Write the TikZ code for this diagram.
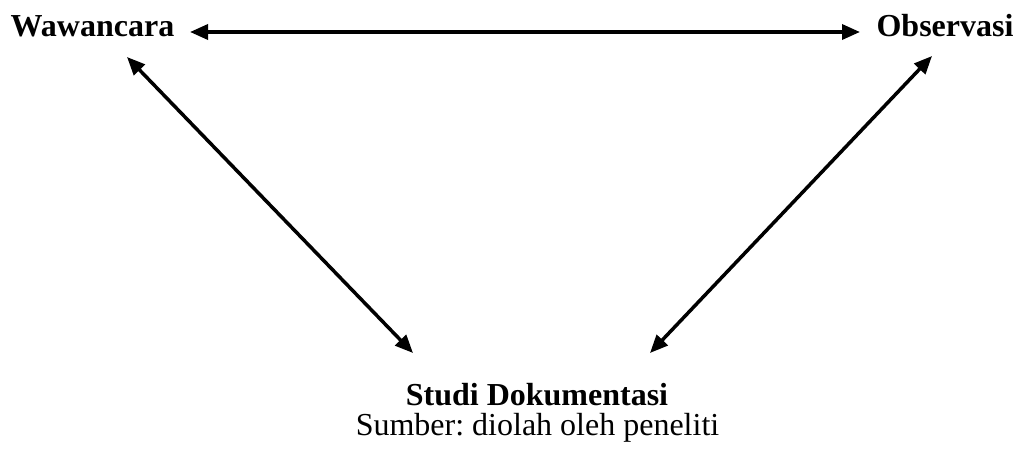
\documentclass[tikz,border=0pt]{standalone}
\usepackage{fontspec}
\setmainfont{Liberation Serif}
\usetikzlibrary{arrows.meta}
\frenchspacing
\begin{document}
\begin{tikzpicture}[x=1pt,y=-1pt,
  lbl/.style={font=\fontsize{32}{38}\selectfont\bfseries, inner sep=0pt, anchor=base},
  src/.style={font=\fontsize{32}{38}\selectfont, inner sep=0pt, anchor=base},
  link/.style={line width=3.5pt, {Triangle[length=18pt,width=15pt]}-{Triangle[length=18pt,width=15pt]}}]
\useasboundingbox (0,0) rectangle (1014,449);
\node[lbl] (w) at (92.5,37) {Wawancara};
\node[lbl] (o) at (945,37) {Observasi};
\node[lbl] (s) at (537,405) {Studi Dokumentasi};
\node[src] (k) at (537.5,435) {Sumber: diolah oleh peneliti};
\coordinate (wr) at (190,32);
\coordinate (ol) at (860,32);
\coordinate (wb) at (127,57);
\coordinate (sl) at (413,353);
\coordinate (ob) at (932,56);
\coordinate (sr) at (650,353);
\draw[link] (wr) -- (ol);
\draw[link] (wb) -- (sl);
\draw[link] (ob) -- (sr);
\end{tikzpicture}
\end{document}
